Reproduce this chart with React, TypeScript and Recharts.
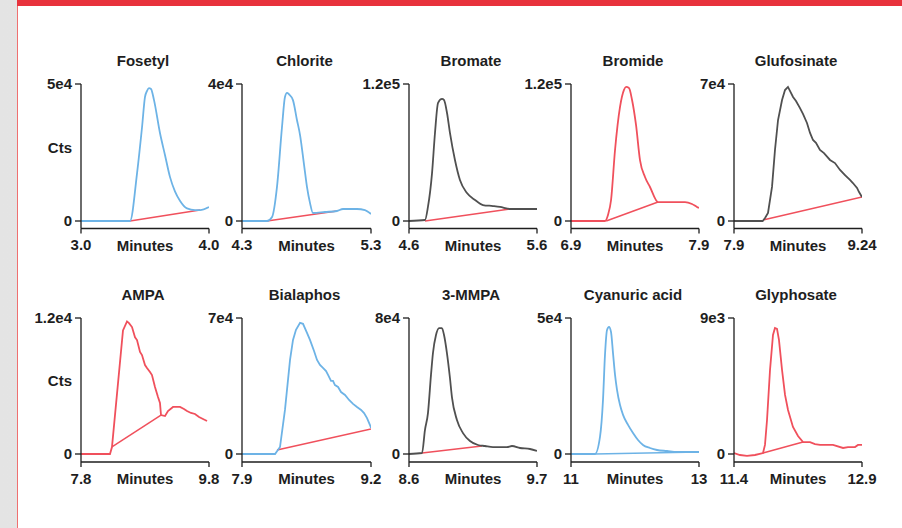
import { LineChart, Line, XAxis, YAxis } from 'recharts';

type Pt = [number, number];

const titles = ['Fosetyl', 'Chlorite', 'Bromate', 'Bromide', 'Glufosinate', 'AMPA', 'Bialaphos', '3-MMPA', 'Cyanuric acid', 'Glyphosate'];
const xDomains: [number, number][] = [
  [3.0, 4.0], [4.3, 5.3], [4.6, 5.6], [6.9, 7.9], [7.9, 9.24],
  [7.8, 9.8], [7.9, 9.2], [8.6, 9.7], [11, 13], [11.4, 12.9],
];
const xTickLabels = [
  ['3.0', '4.0'], ['4.3', '5.3'], ['4.6', '5.6'], ['6.9', '7.9'], ['7.9', '9.24'],
  ['7.8', '9.8'], ['7.9', '9.2'], ['8.6', '9.7'], ['11', '13'], ['11.4', '12.9'],
];
const yMax = [5e4, 4e4, 1.2e5, 1.2e5, 7e4, 1.2e4, 7e4, 8e4, 5e4, 9e3];
const yTickLabels = ['5e4', '4e4', '1.2e5', '1.2e5', '7e4', '1.2e4', '7e4', '8e4', '5e4', '9e3'];

// chromatogram traces: [minutes, counts]
const fosetyl: Pt[] = [[3.0, 0], [3.383, 0], [3.438, 17500], [3.477, 34300], [3.5, 45300], [3.516, 47500], [3.531, 48500], [3.547, 48200], [3.57, 44200], [3.617, 32100], [3.656, 24100], [3.695, 16100], [3.734, 10800], [3.773, 7400], [3.828, 4600], [3.891, 4000], [3.93, 4000], [4.0, 5100]];
const chlorite: Pt[] = [[4.3, 0], [4.494, 0], [4.533, 1170], [4.571, 9900], [4.61, 27400], [4.633, 36200], [4.649, 37400], [4.664, 37000], [4.695, 35300], [4.726, 29500], [4.75, 25100], [4.781, 16400], [4.804, 9900], [4.827, 5300], [4.85, 2340], [4.943, 2630], [5.036, 2920], [5.083, 3500], [5.191, 3500], [5.253, 3200], [5.3, 2040]];
const bromate: Pt[] = [[4.6, 0], [4.725, 880], [4.748, 12300], [4.78, 42000], [4.803, 77100], [4.827, 103400], [4.858, 106900], [4.873, 106000], [4.897, 94600], [4.92, 77100], [4.959, 53400], [4.998, 35900], [5.053, 24500], [5.116, 18400], [5.178, 14000], [5.256, 13100], [5.311, 12300], [5.389, 10500], [5.6, 10500]];
const bromide: Pt[] = [[6.9, 0], [7.166, 0], [7.189, 5300], [7.213, 18400], [7.244, 62200], [7.283, 99900], [7.314, 114800], [7.33, 117400], [7.353, 116500], [7.377, 106000], [7.408, 84100], [7.439, 53400], [7.478, 38500], [7.517, 29800], [7.58, 16600], [7.611, 16600], [7.791, 16600], [7.845, 14900], [7.884, 12300], [7.9, 11400]];
const glufosinate: Pt[] = [[7.9, 0], [8.2, 0], [8.225, 1500], [8.256, 4100], [8.298, 17400], [8.329, 36300], [8.361, 51600], [8.403, 61800], [8.434, 66900], [8.465, 68500], [8.518, 63400], [8.549, 61300], [8.591, 57700], [8.622, 54700], [8.664, 50100], [8.696, 45000], [8.727, 41400], [8.758, 39900], [8.8, 36300], [8.842, 34700], [8.905, 31200], [8.957, 29600], [9.01, 26100], [9.062, 23500], [9.114, 21000], [9.145, 19400], [9.188, 16900], [9.209, 14800], [9.24, 12300]];
const ampa: Pt[] = [[7.8, 0], [8.253, 0], [8.284, 620], [8.456, 10900], [8.519, 11700], [8.55, 11550], [8.597, 11200], [8.644, 10300], [8.675, 10050], [8.722, 9000], [8.753, 8730], [8.8, 7850], [8.831, 7590], [8.878, 7230], [8.909, 6970], [8.956, 5910], [9.003, 5030], [9.034, 4500], [9.05, 3440], [9.113, 3350], [9.159, 3790], [9.238, 4150], [9.347, 4150], [9.409, 3970], [9.456, 3790], [9.519, 3620], [9.581, 3530], [9.644, 3260], [9.706, 3090], [9.769, 2910]];
const bialaphos: Pt[] = [[7.9, 0], [8.233, 0], [8.283, 3600], [8.333, 22700], [8.384, 48400], [8.414, 58700], [8.444, 63900], [8.485, 67500], [8.515, 67000], [8.555, 62300], [8.585, 58700], [8.626, 53000], [8.656, 48400], [8.686, 45800], [8.716, 44300], [8.747, 42700], [8.767, 40700], [8.797, 37600], [8.817, 37600], [8.837, 35500], [8.868, 34500], [8.898, 31900], [8.938, 30400], [8.979, 27800], [9.019, 25800], [9.059, 24200], [9.1, 22700], [9.13, 21100], [9.16, 18500], [9.19, 14900], [9.2, 13400]];
const mmpa: Pt[] = [[8.6, 0], [8.712, 590], [8.737, 14100], [8.763, 24100], [8.789, 46500], [8.806, 59400], [8.832, 70000], [8.858, 74100], [8.883, 74100], [8.901, 70000], [8.926, 59400], [8.952, 44700], [8.969, 33500], [9.012, 20000], [9.064, 12300], [9.124, 7640], [9.193, 5300], [9.253, 4700], [9.322, 4100], [9.442, 4100], [9.485, 4700], [9.554, 3530], [9.64, 2940], [9.7, 1760]];
const cyanuric: Pt[] = [[11, 0], [11.375, 0], [11.453, 6260], [11.5, 19900], [11.531, 36400], [11.563, 45600], [11.594, 46700], [11.625, 44900], [11.656, 37200], [11.688, 29100], [11.719, 23600], [11.766, 18000], [11.813, 14400], [11.891, 10700], [11.969, 7730], [12.047, 5150], [12.125, 3310], [12.234, 2200], [12.344, 1470], [12.5, 1100], [12.656, 740], [13, 740]];
const glyphosate: Pt[] = [[11.4, 66], [11.47, -66], [11.552, -130], [11.646, -66], [11.74, 66], [11.763, 600], [11.787, 2250], [11.822, 5560], [11.857, 7880], [11.88, 8340], [11.904, 8280], [11.927, 7550], [11.963, 5560], [11.998, 3910], [12.033, 2910], [12.091, 1790], [12.15, 1190], [12.209, 790], [12.291, 790], [12.349, 660], [12.408, 600], [12.56, 600], [12.678, 400], [12.736, 460], [12.818, 460], [12.853, 600], [12.9, 600]];

// integration baselines
const baselines: Pt[][] = [
  [[3.383, 0], [3.93, 4000]],
  [[4.494, 0], [5.036, 2920]],
  [[4.725, 0], [5.389, 10500]],
  [[7.175, 0], [7.58, 16600]],
  [[8.215, 600], [9.24, 12300]],
  [[8.284, 620], [9.05, 3440]],
  [[8.253, 2060], [9.2, 12900]],
  [[8.712, 590], [9.227, 4700]],
  [[11.375, 0], [13, 740]],
  [[11.74, 66], [12.209, 790]],
];

const traces = [fosetyl, chlorite, bromate, bromide, glufosinate, ampa, bialaphos, mmpa, cyanuric, glyphosate];

const BLUE = '#6db3e6';
const GRAY = '#505050';
const RED = '#f0505c';
const traceColors = [BLUE, BLUE, GRAY, RED, GRAY, RED, BLUE, GRAY, BLUE, RED];
const baselineColors = [RED, RED, RED, RED, RED, RED, RED, RED, BLUE, RED];
const curveTypes = ['monotone', 'monotone', 'monotone', 'monotone', 'linear', 'linear', 'linear', 'monotone', 'monotone', 'linear'];

// layout
const axisXs = [81, 242, 409, 571, 734];
const plotWs = [128, 129, 128, 128, 128];
const rowTop = [84, 318];
const rowZero = [221, 454];
const rowAxis = [228.5, 462];
const FONT = '"Liberation Sans", Arial, Helvetica, sans-serif';
const INK = '#1e1e1e';

function Panel({ i }: { i: number }) {
  const row = i < 5 ? 0 : 1;
  const col = i % 5;
  const top = rowTop[row];
  const zero = rowZero[row];
  const axisY = rowAxis[row];
  const plotW = plotWs[col];
  const plotH = axisY - top;
  const max = yMax[i];
  const yMin = -max * (axisY - zero) / (zero - top);
  const [x0, x1] = xDomains[i];
  const yAxisW = 60;
  const mTop = 10;
  const mRight = 26;
  const xAxisH = 30;
  const left = axisXs[col] - yAxisW;
  const toData = (pts: Pt[]) => pts.map(([t, v]) => ({ t, v }));
  const tickStyle = { fill: INK, fontSize: 15, fontFamily: FONT, fontWeight: 700 };

  return (
    <>
      <div style={{ position: 'absolute', left, top: top - mTop }}>
        <LineChart width={yAxisW + plotW + mRight} height={mTop + plotH + xAxisH} margin={{ top: mTop, right: mRight, bottom: 0, left: 0 }}>
          <XAxis
            type="number" dataKey="t" domain={[x0, x1]} ticks={[x0, x1]} interval={0} allowDataOverflow
            height={xAxisH} tickSize={5} tickMargin={6}
            tickFormatter={(v: number) => (v === x0 ? xTickLabels[i][0] : xTickLabels[i][1])}
            stroke={INK} strokeWidth={1.3}
            tick={tickStyle}
          />
          <YAxis
            type="number" domain={[yMin, max]} ticks={[0, max]} interval={0} allowDataOverflow
            width={yAxisW} tickSize={6} tickMargin={3}
            tickFormatter={(v: number) => (v === 0 ? '0' : yTickLabels[i])}
            stroke={INK} strokeWidth={1.3}
            tick={tickStyle}
          />
          <Line data={toData(baselines[i])} dataKey="v" type="linear" stroke={baselineColors[i]} strokeWidth={1.5} dot={false} isAnimationActive={false} />
          <Line data={toData(traces[i])} dataKey="v" type={curveTypes[i] as 'monotone' | 'linear'} stroke={traceColors[i]} strokeWidth={1.8} dot={false} isAnimationActive={false} />
        </LineChart>
      </div>
      <div style={{ position: 'absolute', left: axisXs[col] + plotW / 2 - 82, width: 160, top: top - 32, textAlign: 'center', fontSize: 15, fontWeight: 700, color: INK, lineHeight: '18px' }}>
        {titles[i]}
      </div>
      <div style={{ position: 'absolute', left: axisXs[col] + plotW / 2 - 50, width: 100, top: axisY + 8, textAlign: 'center', fontSize: 15, fontWeight: 700, color: INK, lineHeight: '18px' }}>
        Minutes
      </div>
      {col === 0 && (
        <div style={{ position: 'absolute', left: 30, width: 42, top: (top + zero) / 2 - 14, textAlign: 'right', fontSize: 15, fontWeight: 700, color: INK, lineHeight: '18px' }}>
          Cts
        </div>
      )}
    </>
  );
}

export default function App() {
  return (
    <div style={{ position: 'absolute', left: 0, top: 0, width: 902, height: 528, overflow: 'hidden', fontFamily: FONT, background: 'linear-gradient(90deg, #e4e4e4 0%, #efefef 100%)' }}>
      <div style={{ position: 'absolute', left: 17, top: 0, right: 0, bottom: 0, background: '#ffffff', borderLeft: '1px solid #ef7070' }} />
      <div style={{ position: 'absolute', left: 17, top: 0, right: 0, height: 6, background: '#e8323c' }} />
      {titles.map((_, i) => <Panel key={i} i={i} />)}
    </div>
  );
}
